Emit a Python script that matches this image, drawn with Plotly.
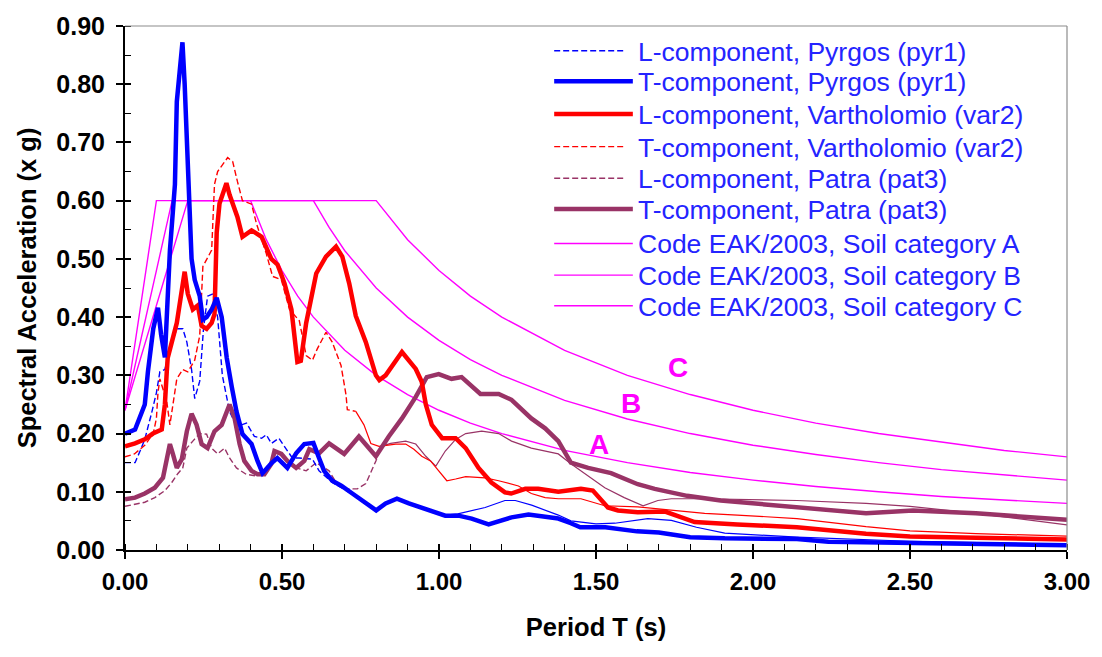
import plotly.graph_objects as go

# ---------------- data ----------------
T_pyr_T = [0, 0.032, 0.063, 0.073, 0.09, 0.105, 0.115, 0.127, 0.143, 0.159, 0.165, 0.174, 0.183, 0.19, 0.197,
           0.204, 0.212, 0.222, 0.238, 0.248, 0.26, 0.276, 0.292, 0.308, 0.324, 0.34, 0.355, 0.374, 0.403,
           0.422, 0.438, 0.466, 0.485, 0.517, 0.545, 0.571, 0.60, 0.618, 0.634, 0.66, 0.69, 0.724, 0.767,
           0.80, 0.83, 0.866, 0.904, 0.941, 0.977, 1.02, 1.062, 1.104, 1.158, 1.19, 1.231, 1.285, 1.338,
           1.38, 1.42, 1.45, 1.53, 1.63, 1.70, 1.80, 1.91, 2.0, 2.14, 2.24, 2.5, 2.71, 3.0]
S_pyr_T = [0.20, 0.207, 0.25, 0.306, 0.38, 0.416, 0.37, 0.331, 0.514, 0.628, 0.77, 0.815, 0.872, 0.80, 0.70,
           0.60, 0.50, 0.464, 0.436, 0.396, 0.40, 0.413, 0.433, 0.40, 0.33, 0.28, 0.238, 0.199, 0.182,
           0.153, 0.132, 0.149, 0.158, 0.141, 0.166, 0.182, 0.184, 0.158, 0.136, 0.119, 0.110, 0.097, 0.080,
           0.068, 0.080, 0.088, 0.080, 0.073, 0.068, 0.059, 0.059, 0.054, 0.044, 0.050, 0.056, 0.061, 0.058,
           0.054, 0.046, 0.039, 0.039, 0.032, 0.030, 0.022, 0.020, 0.020, 0.019, 0.014, 0.012, 0.010, 0.008]

T_pyr_L = [0, 0.032, 0.048, 0.063, 0.086, 0.10, 0.111, 0.127, 0.145, 0.165, 0.184, 0.197, 0.212, 0.222,
           0.238, 0.25, 0.263, 0.28, 0.295, 0.31, 0.333, 0.349, 0.371, 0.387, 0.412, 0.435, 0.45, 0.466,
           0.49, 0.513, 0.533, 0.555, 0.597, 0.618, 0.66, 0.714, 0.767, 0.80, 0.83, 0.866, 0.904, 0.941,
           0.977, 1.02, 1.06, 1.147, 1.21, 1.243, 1.295, 1.38, 1.42, 1.50, 1.56, 1.665, 1.74, 1.82, 1.91,
           2.14, 2.5, 3.0]
S_pyr_L = [0.15, 0.15, 0.17, 0.19, 0.238, 0.27, 0.306, 0.31, 0.35, 0.38, 0.38, 0.357, 0.31, 0.26,
           0.29, 0.38, 0.436, 0.44, 0.40, 0.30, 0.238, 0.22, 0.215, 0.218, 0.195, 0.192, 0.198, 0.183,
           0.192, 0.173, 0.158, 0.158, 0.156, 0.136, 0.116, 0.099, 0.082, 0.070, 0.080, 0.088, 0.080, 0.073,
           0.066, 0.060, 0.062, 0.073, 0.085, 0.085, 0.077, 0.060, 0.050, 0.045, 0.046, 0.054, 0.051, 0.039, 0.029,
           0.022, 0.015, 0.010]

T_var_L = [0, 0.032, 0.063, 0.089, 0.117, 0.127, 0.133, 0.136, 0.165, 0.181, 0.19, 0.20, 0.216, 0.232,
           0.244, 0.26, 0.276, 0.285, 0.292, 0.301, 0.317, 0.323, 0.333, 0.358, 0.374, 0.403, 0.435, 0.466,
           0.486, 0.508, 0.53, 0.549, 0.56, 0.577, 0.609, 0.64, 0.672, 0.692, 0.714, 0.735, 0.767, 0.799,
           0.81, 0.83, 0.882, 0.926, 0.945, 0.958, 0.977, 1.01, 1.053, 1.085, 1.126, 1.167, 1.21, 1.23,
           1.275, 1.316, 1.38, 1.452, 1.49, 1.538, 1.57, 1.633, 1.72, 1.76, 1.814, 1.95, 2.14, 2.36, 2.5,
           2.71, 3.0]
S_var_L = [0.178, 0.183, 0.19, 0.20, 0.207, 0.25, 0.306, 0.33, 0.39, 0.44, 0.478, 0.44, 0.413, 0.42,
           0.385, 0.38, 0.39, 0.405, 0.545, 0.595, 0.623, 0.63, 0.61, 0.572, 0.538, 0.549, 0.538, 0.50,
           0.49, 0.458, 0.413, 0.323, 0.325, 0.39, 0.475, 0.504, 0.521, 0.504, 0.458, 0.402, 0.357, 0.30,
           0.292, 0.30, 0.34, 0.311, 0.289, 0.25, 0.215, 0.192, 0.192, 0.175, 0.141, 0.116, 0.099, 0.097,
           0.105, 0.105, 0.100, 0.105, 0.102, 0.073, 0.068, 0.065, 0.066, 0.059, 0.048, 0.044, 0.039, 0.028,
           0.023, 0.021, 0.018]

T_var_T = [0, 0.03, 0.063, 0.09, 0.10, 0.105, 0.111, 0.133, 0.143, 0.165, 0.184, 0.2, 0.222, 0.238, 0.248,
           0.26, 0.276, 0.285, 0.295, 0.327, 0.343, 0.358, 0.374, 0.403, 0.419, 0.45, 0.47, 0.498, 0.524,
           0.555, 0.577, 0.597, 0.612, 0.64, 0.66, 0.688, 0.704, 0.708, 0.735, 0.761, 0.783, 0.809, 0.862,
           0.894, 0.92, 0.945, 0.973, 0.999, 1.025, 1.053, 1.085, 1.147, 1.19, 1.253, 1.294, 1.338, 1.38,
           1.452, 1.528, 1.633, 1.738, 1.846, 1.95, 2.14, 2.36, 2.5, 2.71, 3.0]
S_var_T = [0.16, 0.165, 0.18, 0.20, 0.226, 0.27, 0.294, 0.255, 0.215, 0.294, 0.31, 0.306, 0.326, 0.368, 0.487,
           0.50, 0.515, 0.628, 0.65, 0.674, 0.667, 0.633, 0.60, 0.594, 0.56, 0.509, 0.47, 0.464, 0.413,
           0.394, 0.334, 0.326, 0.345, 0.374, 0.357, 0.317, 0.266, 0.241, 0.238, 0.215, 0.183, 0.178, 0.182,
           0.182, 0.173, 0.161, 0.153, 0.136, 0.119, 0.122, 0.126, 0.124, 0.119, 0.110, 0.097, 0.090, 0.088,
           0.088, 0.076, 0.074, 0.068, 0.063, 0.060, 0.054, 0.040, 0.033, 0.028, 0.024]

T_pat_L = [0, 0.063, 0.095, 0.127, 0.149, 0.168, 0.184, 0.197, 0.216, 0.238, 0.26, 0.276, 0.295, 0.317,
           0.333, 0.355, 0.386, 0.419, 0.45, 0.482, 0.513, 0.545, 0.577, 0.609, 0.65, 0.672, 0.704, 0.74,
           0.767, 0.799, 0.815, 0.846, 0.894, 0.926, 0.958, 0.99, 1.02, 1.053, 1.085, 1.136, 1.19, 1.231,
           1.294, 1.38, 1.42, 1.528, 1.59, 1.65, 1.697, 1.74, 1.846, 1.95, 2.14, 2.36, 2.5, 2.71, 3.0]
S_pat_L = [0.075, 0.082, 0.09, 0.102, 0.116, 0.131, 0.141, 0.175, 0.187, 0.20, 0.199, 0.175, 0.165, 0.175,
           0.158, 0.141, 0.13, 0.127, 0.136, 0.167, 0.158, 0.141, 0.136, 0.15, 0.136, 0.116, 0.105, 0.105,
           0.114, 0.153, 0.178, 0.183, 0.187, 0.182, 0.161, 0.144, 0.17, 0.19, 0.20, 0.204, 0.20, 0.187,
           0.175, 0.165, 0.148, 0.107, 0.09, 0.076, 0.085, 0.088, 0.088, 0.087, 0.085, 0.080, 0.075, 0.063, 0.043]

T_pat_T = [0, 0.032, 0.063, 0.095, 0.121, 0.133, 0.143, 0.152, 0.165, 0.181, 0.197, 0.212, 0.228, 0.244,
           0.263, 0.285, 0.308, 0.333, 0.349, 0.365, 0.38, 0.403, 0.422, 0.444, 0.466, 0.476, 0.498, 0.517,
           0.545, 0.571, 0.587, 0.618, 0.65, 0.698, 0.745, 0.799, 0.84, 0.882, 0.926, 0.961, 0.999, 1.04,
           1.072, 1.132, 1.19, 1.231, 1.294, 1.338, 1.38, 1.42, 1.475, 1.548, 1.633, 1.687, 1.79, 1.897,
           2.0, 2.14, 2.24, 2.36, 2.51, 2.71, 3.0]
S_pat_T = [0.087, 0.09, 0.097, 0.107, 0.124, 0.153, 0.182, 0.166, 0.141, 0.156, 0.204, 0.234, 0.215, 0.182,
           0.175, 0.204, 0.215, 0.25, 0.226, 0.182, 0.153, 0.136, 0.13, 0.13, 0.148, 0.17, 0.165, 0.153,
           0.141, 0.153, 0.173, 0.166, 0.183, 0.165, 0.195, 0.161, 0.195, 0.226, 0.263, 0.297, 0.302, 0.294,
           0.297, 0.268, 0.268, 0.258, 0.226, 0.209, 0.187, 0.15, 0.141, 0.132, 0.113, 0.105, 0.093, 0.085,
           0.080, 0.073, 0.068, 0.063, 0.068, 0.063, 0.052]

T_code_A = [0, 0.1, 0.4, 0.45, 0.5, 0.55, 0.6, 0.7, 0.8, 0.9, 1.0, 1.1, 1.2, 1.4, 1.6, 1.8, 2.0, 2.2, 2.4,
            2.6, 2.8, 3.0]
S_code_A = [0.24, 0.60, 0.60, 0.533, 0.48, 0.436, 0.40, 0.343, 0.30, 0.267, 0.24, 0.218, 0.20, 0.171,
            0.15, 0.133, 0.12, 0.109, 0.10, 0.092, 0.086, 0.08]
T_code_B = [0, 0.15, 0.6, 0.65, 0.7, 0.8, 0.9, 1.0, 1.1, 1.2, 1.4, 1.6, 1.8, 2.0, 2.2, 2.4, 2.6, 2.8, 3.0]
S_code_B = [0.24, 0.60, 0.60, 0.554, 0.514, 0.45, 0.40, 0.36, 0.327, 0.30, 0.257, 0.225, 0.20, 0.18,
            0.164, 0.15, 0.138, 0.129, 0.12]
T_code_C = [0, 0.2, 0.8, 0.9, 1.0, 1.1, 1.2, 1.4, 1.6, 1.8, 2.0, 2.2, 2.4, 2.6, 2.8, 3.0]
S_code_C = [0.24, 0.60, 0.60, 0.533, 0.48, 0.436, 0.40, 0.343, 0.30, 0.267, 0.24, 0.218, 0.20, 0.185,
            0.171, 0.16]

legend_names = ["L-component, Pyrgos (pyr1)", "T-component, Pyrgos (pyr1)",
                "L-component, Vartholomio (var2)", "T-component, Vartholomio (var2)",
                "L-component, Patra (pat3)", "T-component, Patra (pat3)",
                "Code EAK/2003, Soil category A", "Code EAK/2003, Soil category B",
                "Code EAK/2003, Soil category C"]
soil_labels = ["A", "B", "C"]
soil_label_T = [1.51, 1.61, 1.76]
soil_label_S = [0.182, 0.252, 0.313]

# ---------------- styles ----------------
BLUE, RED, PURPLE, MAG = "#0000FF", "#FF0000", "#993366", "#FF00FF"
DASH = "6px,3px"
# (T, S, colour, width, dash, period after which the dense dashed line looks solid)
series = [
    (T_pyr_L, S_pyr_L, BLUE, 1.4, DASH, 0.72),
    (T_pyr_T, S_pyr_T, BLUE, 4.5, "solid", None),
    (T_var_L, S_var_L, RED, 4.5, "solid", None),
    (T_var_T, S_var_T, RED, 1.4, DASH, 0.72),
    (T_pat_L, S_pat_L, PURPLE, 1.4, DASH, 0.80),
    (T_pat_T, S_pat_T, PURPLE, 4.5, "solid", None),
    (T_code_A, S_code_A, MAG, 1.4, "solid", None),
    (T_code_B, S_code_B, MAG, 1.4, "solid", None),
    (T_code_C, S_code_C, MAG, 1.4, "solid", None),
]

fig = go.Figure()
order = [6, 7, 8, 4, 0, 3, 5, 2, 1]
for i in order:
    t, s, c, w, d, split = series[i]
    if split is None:
        fig.add_trace(go.Scatter(x=t, y=s, mode="lines", name=legend_names[i],
                                 line=dict(color=c, width=w, dash=d), showlegend=False))
    else:
        k = next(j for j, v in enumerate(t) if v >= split)
        fig.add_trace(go.Scatter(x=t[:k + 1], y=s[:k + 1], mode="lines", name=legend_names[i],
                                 line=dict(color=c, width=w, dash=d), showlegend=False))
        fig.add_trace(go.Scatter(x=t[k:], y=s[k:], mode="lines", name=legend_names[i],
                                 line=dict(color=c, width=w - 0.2, dash="solid"), showlegend=False))

# dummy trace to activate overlay axes (for crossing ticks)
fig.add_trace(go.Scatter(x=[], y=[], xaxis="x2", yaxis="y2", showlegend=False, hoverinfo="skip"))

# soil category labels
for lab, tx, sy in zip(soil_labels, soil_label_T, soil_label_S):
    fig.add_annotation(x=tx, y=sy, text=lab, showarrow=False,
                       font=dict(family="Liberation Sans, Arial", size=28, color=MAG, weight="bold"))

# manual legend (paper coordinates derived from the plot-area pixel layout)
PL, PT, PW, PH = 125, 20, 946, 530
def px(xp):
    return (xp - PL) / PW
def py(yp):
    return (PT + PH - yp) / PH

row_y = [45, 76, 109, 142, 174, 205, 240, 272, 303]
for i, yy in enumerate(row_y):
    t, s, c, w, d, split = series[i]
    x1 = 628 if d != "solid" else 635
    fig.add_shape(type="line", xref="paper", yref="paper", x0=px(556), x1=px(x1), y0=py(yy), y1=py(yy),
                  line=dict(color=c, width=w, dash=d))
    fig.add_annotation(xref="paper", yref="paper", x=px(638), y=py(yy + 1), text=legend_names[i],
                       showarrow=False, xanchor="left", yanchor="middle",
                       font=dict(family="Liberation Sans, Arial", size=26.5, color="#2424ff"))

# gray plot-area border (top & right)
fig.add_shape(type="line", xref="paper", yref="paper", x0=0, x1=1, y0=1, y1=1,
              line=dict(color="#8c8c8c", width=1.2))
fig.add_shape(type="line", xref="paper", yref="paper", x0=1, x1=1, y0=0, y1=1,
              line=dict(color="#8c8c8c", width=1.2))

ytickfont = dict(family="Liberation Sans, Arial", size=25, color="black", weight="bold")
xtickfont = dict(family="Liberation Sans, Arial", size=24, color="black", weight="bold")
titlefont = dict(family="Liberation Sans, Arial", size=25.5, color="black", weight="bold")

fig.update_layout(
    width=1102, height=657,
    margin=dict(l=PL, r=1102 - PL - PW, t=PT, b=657 - PT - PH),
    paper_bgcolor="white", plot_bgcolor="white",
    xaxis=dict(range=[0, 3], dtick=0.5, tick0=0, tickformat=".2f", showgrid=False, zeroline=False,
               showline=True, linecolor="black", linewidth=2, ticks="outside", ticklen=7, tickwidth=1.5,
               tickcolor="black", tickfont=xtickfont, ticklabelstandoff=2,
               minor=dict(dtick=0.1, ticks="inside", ticklen=6, tickwidth=1.2, tickcolor="black"),
               title=dict(text="Period T (s)", font=titlefont, standoff=24)),
    yaxis=dict(range=[0, 0.9], dtick=0.1, tick0=0, tickformat=".2f", showgrid=False, zeroline=False,
               showline=True, linecolor="black", linewidth=2, ticks="outside", ticklen=7, tickwidth=1.5,
               tickcolor="black", tickfont=ytickfont, ticklabelstandoff=6,
               minor=dict(dtick=0.05, ticks="inside", ticklen=6, tickwidth=1.2, tickcolor="black"),
               title=dict(text="Spectral Acceleration (x g)", font=titlefont, standoff=12)),
    xaxis2=dict(overlaying="x", matches="x", range=[0, 3], dtick=0.5, tick0=0, ticks="inside", ticklen=6,
                tickwidth=1.5, tickcolor="black", showticklabels=False, showgrid=False, zeroline=False,
                showline=False, anchor="y2", side="bottom"),
    yaxis2=dict(overlaying="y", matches="y", range=[0, 0.9], dtick=0.1, tick0=0, ticks="inside", ticklen=6,
                tickwidth=1.5, tickcolor="black", showticklabels=False, showgrid=False, zeroline=False,
                showline=False, anchor="x2", side="left"),
    showlegend=False,
)

fig.write_html("out.html")
